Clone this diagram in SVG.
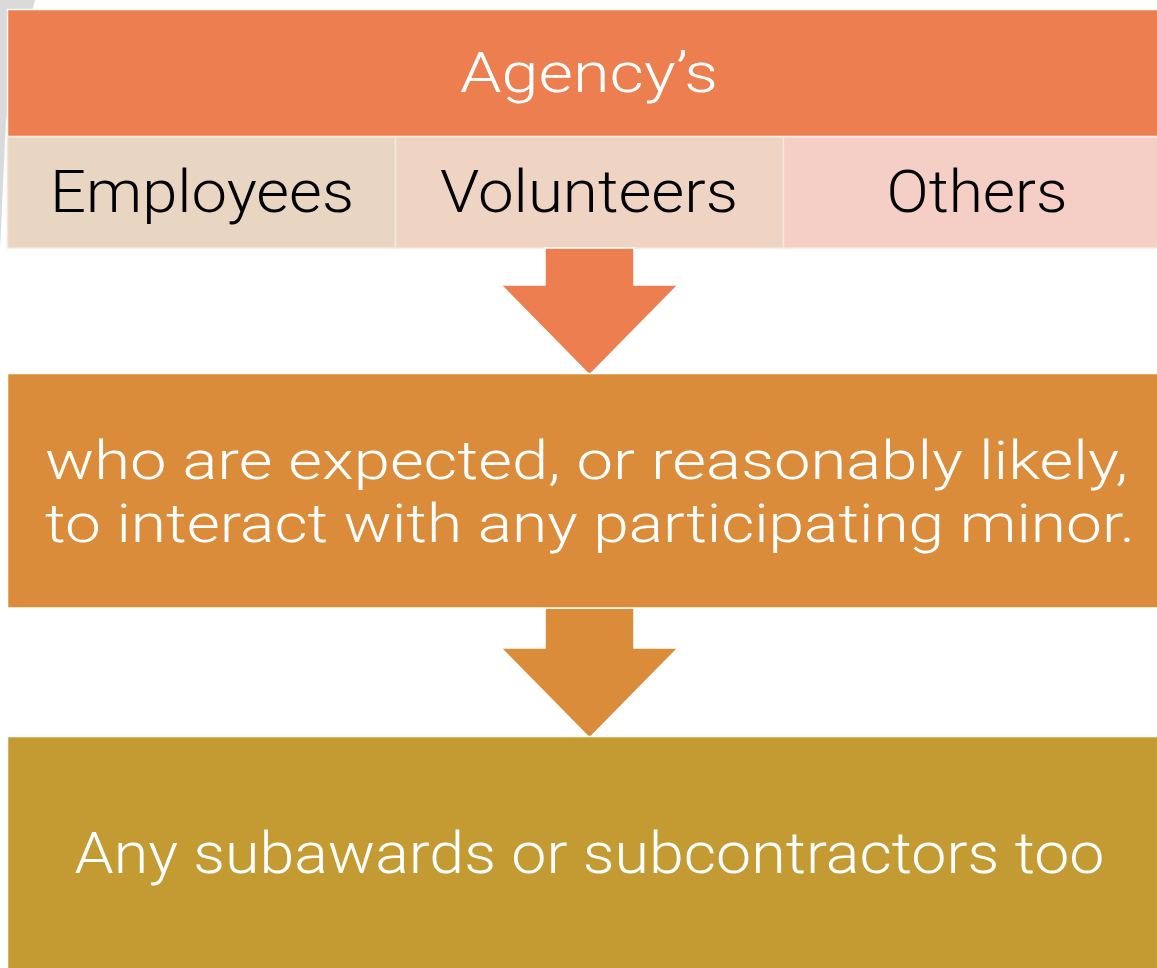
<svg xmlns="http://www.w3.org/2000/svg" width="1157" height="968" viewBox="0 0 1157 968">
<style>
  .lbl { font-family: Roboto, "Liberation Sans", Arial, sans-serif; font-weight: 300; text-anchor: middle; }
  .white { fill: #FFFFFF; }
  .dark { fill: #000000; }
  .box { stroke: #FFFFFF; stroke-width: 1.5; }
  .cell { stroke: #F6E6DC; stroke-width: 1.5; }
</style>
<rect x="0" y="0" width="1157" height="968" fill="#FFFFFF"/>
<polygon points="0,0 35,0 30,20 6,120 0,250" fill="#DADADA"/>

<g id="header">
  <rect class="box" x="7.5" y="9.5" width="1152" height="127" fill="#EC7E50"/>
  <text class="lbl white" x="589" y="92" font-size="56" textLength="258" lengthAdjust="spacingAndGlyphs">Agency’s</text>
</g>
<g id="employees">
  <rect class="cell" x="7.5" y="137" width="388" height="111" fill="#E8D5C2"/>
  <text class="lbl dark" x="202" y="212" font-size="60" textLength="304" lengthAdjust="spacingAndGlyphs">Employees</text>
</g>
<g id="volunteers">
  <rect class="cell" x="395.5" y="137" width="388" height="111" fill="#EFD3C3"/>
  <text class="lbl dark" x="589" y="212" font-size="60" textLength="298" lengthAdjust="spacingAndGlyphs">Volunteers</text>
</g>
<g id="others">
  <rect class="cell" x="783.5" y="137" width="376" height="111" fill="#F5CFC5"/>
  <text class="lbl dark" x="977" y="212" font-size="60" textLength="181" lengthAdjust="spacingAndGlyphs">Others</text>
</g>

<g id="connectors">
  <polygon class="box" points="545,248 634,248 634,285 678,285 589.5,375 501,285 545,285" fill="#EC7E50"/>
  <polygon class="box" points="545,608 634,608 634,648 678,648 589.5,738 501,648 545,648" fill="#DB8C3A"/>
</g>

<g id="criteria">
  <rect class="box" x="7.5" y="373.5" width="1152" height="234.5" fill="#DB8C3A"/>
  <text class="lbl white" x="586.5" y="479" font-size="54" textLength="1083" lengthAdjust="spacingAndGlyphs">who are expected, or reasonably likely,</text>
  <text class="lbl white" x="590" y="542" font-size="54" textLength="1090" lengthAdjust="spacingAndGlyphs">to interact with any participating minor.</text>
</g>
<g id="subawards">
  <rect class="box" x="7.5" y="736.5" width="1152" height="235" fill="#C49A33"/>
  <text class="lbl white" x="589.5" y="873" font-size="58" textLength="1030" lengthAdjust="spacingAndGlyphs">Any subawards or subcontractors too</text>
</g>
</svg>
